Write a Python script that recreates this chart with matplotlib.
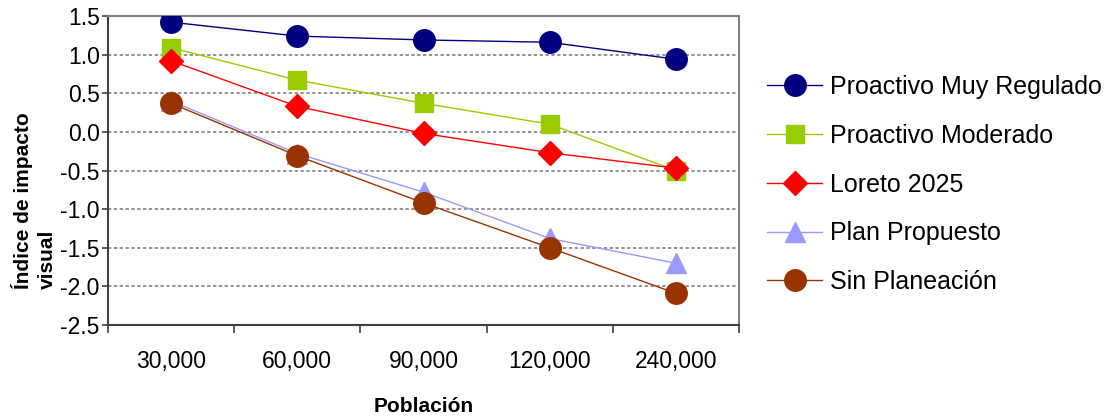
import matplotlib.pyplot as plt
from matplotlib.ticker import FixedLocator, MultipleLocator

plt.rcParams["font.family"] = ["Liberation Sans", "DejaVu Sans"]

# datos
poblacion = ["30,000", "60,000", "90,000", "120,000", "240,000"]
muy_regulado = [1.42, 1.24, 1.19, 1.16, 0.94]
moderado = [1.09, 0.67, 0.37, 0.10, -0.50]
loreto = [0.92, 0.33, -0.02, -0.27, -0.47]
plan_propuesto = [0.40, -0.28, -0.78, -1.38, -1.70]
sin_planeacion = [0.37, -0.31, -0.92, -1.50, -2.09]

series = [
    ("Proactivo Muy Regulado", muy_regulado, "#000080", "o", 15.5),
    ("Proactivo Moderado", moderado, "#99CC00", "s", 12.5),
    ("Loreto 2025", loreto, "#FF0000", "D", 12.5),
    ("Plan Propuesto", plan_propuesto, "#9999FF", "^", 15),
    ("Sin Planeación", sin_planeacion, "#993300", "o", 15.5),
]

fig = plt.figure(figsize=(11.1, 4.16), dpi=100)
ax = fig.add_axes([108 / 1110, 1 - 325 / 416, 631 / 1110, 309 / 416])

x = list(range(len(poblacion)))
for label, vals, color, marker, ms in series:
    ax.plot(x, vals, color=color, linewidth=1, marker=marker, markersize=ms,
            markerfacecolor=color, markeredgecolor=color, label=label, zorder=3)

# ejes
ax.set_xlim(-0.5, len(poblacion) - 0.5)
ax.set_ylim(-2.5, 1.5)
ax.yaxis.set_major_locator(MultipleLocator(0.5))
ax.yaxis.set_major_formatter(lambda v, p: f"{v:.1f}")
ax.xaxis.set_major_locator(FixedLocator(x))
ax.set_xticklabels(poblacion)
ax.xaxis.set_minor_locator(FixedLocator([i - 0.5 for i in range(len(poblacion) + 1)]))
ax.tick_params(axis="x", which="major", length=0, pad=18, labelsize=16.5)
ax.tick_params(axis="x", which="minor", length=6, color="#404040", width=1.2)
ax.tick_params(axis="y", length=4, color="#404040", width=1.2, labelsize=16.5, pad=2)

for v in [-2.0, -1.5, -1.0, -0.5, 0.0, 0.5, 1.0]:
    ax.axhline(v, color="#808080", linestyle=(0, (2, 1.5)), linewidth=1.2, zorder=1)

for side in ["left", "bottom"]:
    ax.spines[side].set_color("#404040")
    ax.spines[side].set_linewidth(1.5)
for side in ["top", "right"]:
    ax.spines[side].set_color("#808080")
    ax.spines[side].set_linewidth(1.5)

ax.set_xlabel("Población", fontsize=15, fontweight="bold", labelpad=17)
ax.set_ylabel("Índice de impacto\nvisual", fontsize=15, fontweight="bold",
              linespacing=1.3, multialignment="left")
ax.yaxis.set_label_coords(-0.081, 0.401)

fig.legend(loc="upper left", bbox_to_anchor=(767 / 1110, 1 - 75 / 416),
           frameon=False, fontsize=18, labelspacing=0.99, handlelength=2.2,
           handletextpad=0.32, borderaxespad=0, borderpad=0)

fig.savefig("out.png", dpi=100)
